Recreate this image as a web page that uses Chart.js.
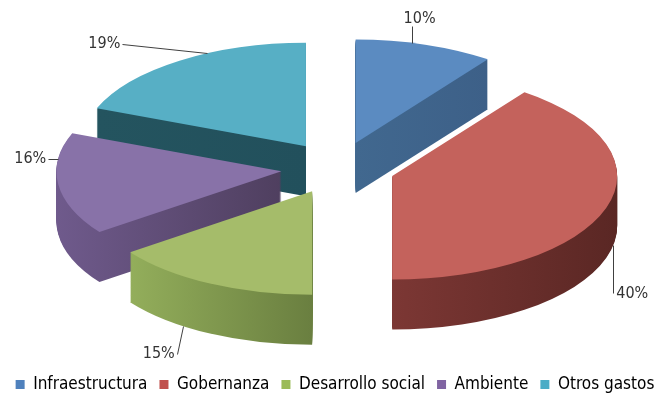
<!DOCTYPE html>
<html>
<head>
<meta charset="utf-8">
<script src="https://cdn.jsdelivr.net/npm/chart.js@4.4.1/dist/chart.umd.min.js"></script>
<style>
  body { margin: 0; background: #fff; }
</style>
</head>
<body>
<canvas id="chart" width="670" height="403"></canvas>
<script>
// datos del gráfico
const categories = ['Infraestructura', 'Gobernanza', 'Desarrollo social', 'Ambiente', 'Otros gastos'];
const shares = [10, 40, 15, 16, 19];

// colores: cara superior, lateral (izq -> der) y leyenda
const topColors = ['#5B8BC1', '#C4625C', '#A5BC6A', '#8872A8', '#57AFC5'];
const sideColors = [
  ['#41688F', '#3D6088'],
  ['#7C3734', '#5A2724'],
  ['#93AE5B', '#6A7F40'],
  ['#6F5A8C', '#4F3F5F'],
  ['#24545F', '#22505C']
];
const legendColors = ['#4F81BD', '#C0504D', '#9BBB59', '#8064A2', '#4BACC6'];

const FONT = '"DejaVu Sans Condensed", "DejaVu Sans", sans-serif';

// geometría del falso 3D
const CENTER_X = 338;
const CENTER_Y = 168;
const TILT = 0.46;
const EXPLODE = 57;
const DEPTH = 50;

// guías de las etiquetas: punto del borde (fracción del sector), bajada por el lado, línea
const leaders = [
  { at: 0.4, depth: 0, dx: 0, dy: -17, align: 'center' },
  { at: 0.45, depth: 1, dx: 0, dy: 48, align: 'left' },
  { at: 0.65, depth: 1, dx: -6, dy: 28, align: 'right' },
  { at: 0.5, depth: -0.5, dx: -10, dy: 0, align: 'right' },
  { at: 0.62, depth: 0, dx: -85, dy: -9, align: 'right' }
];

const xRange = (arc) => {
  let min = 0, max = 0;
  for (let k = 0; k <= 40; k++) {
    const t = arc.startAngle + (arc.endAngle - arc.startAngle) * k / 40;
    const x = arc.outerRadius * Math.cos(t);
    min = Math.min(min, x);
    max = Math.max(max, x);
  }
  return [min, max];
};

const withOptions = (arc, extra, fn) => {
  const orig = arc.options;
  const o = Object.create(orig);
  Object.assign(o, extra);
  arc.options = o;
  fn();
  arc.options = orig;
};

const pie3d = {
  id: 'pie3d',
  beforeDatasetsDraw(chart) {
    const ctx = chart.ctx;
    const meta = chart.getDatasetMeta(0);
    const items = meta.data.map((arc, i) => ({ arc, i, mid: (arc.startAngle + arc.endAngle) / 2 }));
    // de atrás hacia delante
    items.sort((a, b) => Math.sin(a.mid) - Math.sin(b.mid));
    items.forEach(({ arc, i, mid }) => {
      ctx.save();
      ctx.translate(CENTER_X, CENTER_Y);
      ctx.scale(1, TILT);
      ctx.translate(-arc.x + EXPLODE * Math.cos(mid), -arc.y + EXPLODE * Math.sin(mid));
      const [x0, x1] = xRange(arc);
      const grad = ctx.createLinearGradient(arc.x + x0, 0, arc.x + x1, 0);
      grad.addColorStop(0, sideColors[i][0]);
      grad.addColorStop(1, sideColors[i][1]);
      withOptions(arc, { backgroundColor: grad, borderWidth: 0 }, () => {
        for (let s = DEPTH; s > 0; s--) {
          ctx.save();
          ctx.translate(0, s / TILT);
          arc.draw(ctx);
          ctx.restore();
        }
      });
      arc.draw(ctx);
      ctx.restore();
    });
    return false;
  },
  afterDraw(chart) {
    const ctx = chart.ctx;
    const meta = chart.getDatasetMeta(0);
    const total = shares.reduce((a, b) => a + b, 0);
    ctx.save();
    ctx.font = '16px ' + FONT;
    ctx.fillStyle = '#333';
    ctx.strokeStyle = '#404040';
    ctx.lineWidth = 1;
    meta.data.forEach((arc, i) => {
      const mid = (arc.startAngle + arc.endAngle) / 2;
      const L = leaders[i];
      const t = arc.startAngle + (arc.endAngle - arc.startAngle) * L.at;
      const r = arc.outerRadius;
      const ax = CENTER_X + EXPLODE * Math.cos(mid) + r * Math.cos(t);
      const ay = CENTER_Y + (EXPLODE * Math.sin(mid) + r * Math.sin(t)) * TILT + L.depth * DEPTH;
      const bx = ax + L.dx;
      const by = ay + L.dy;
      ctx.beginPath();
      ctx.moveTo(Math.round(ax) + 0.5, Math.round(ay) + 0.5);
      ctx.lineTo(Math.round(bx) + 0.5, Math.round(by) + 0.5);
      ctx.stroke();
      const txt = Math.round(shares[i] / total * 100) + '%';
      ctx.textAlign = L.align;
      if (L.align === 'center') {
        ctx.textBaseline = 'bottom';
        ctx.fillText(txt, bx + 8, by + 1);
      } else {
        ctx.textBaseline = 'middle';
        ctx.fillText(txt, L.align === 'left' ? bx + 3 : bx - 2, by);
      }
    });
    ctx.restore();
  }
};

new Chart(document.getElementById('chart'), {
  type: 'pie',
  data: {
    labels: categories,
    datasets: [{
      data: shares,
      backgroundColor: topColors,
      borderWidth: 0,
      clip: false
    }]
  },
  options: {
    responsive: false,
    animation: false,
    devicePixelRatio: 1,
    radius: 225,
    layout: { padding: { bottom: 0 } },
    plugins: {
      tooltip: { enabled: false },
      legend: {
        position: 'bottom',
        labels: {
          boxWidth: 9,
          boxHeight: 9,
          padding: 12,
          color: '#1a1a1a',
          font: { family: FONT, size: 17 },
          generateLabels: (chart) => categories.map((c, i) => ({
            text: c,
            fillStyle: legendColors[i],
            strokeStyle: legendColors[i],
            lineWidth: 0,
            index: i
          }))
        }
      }
    }
  },
  plugins: [pie3d]
});
</script>
</body>
</html>
